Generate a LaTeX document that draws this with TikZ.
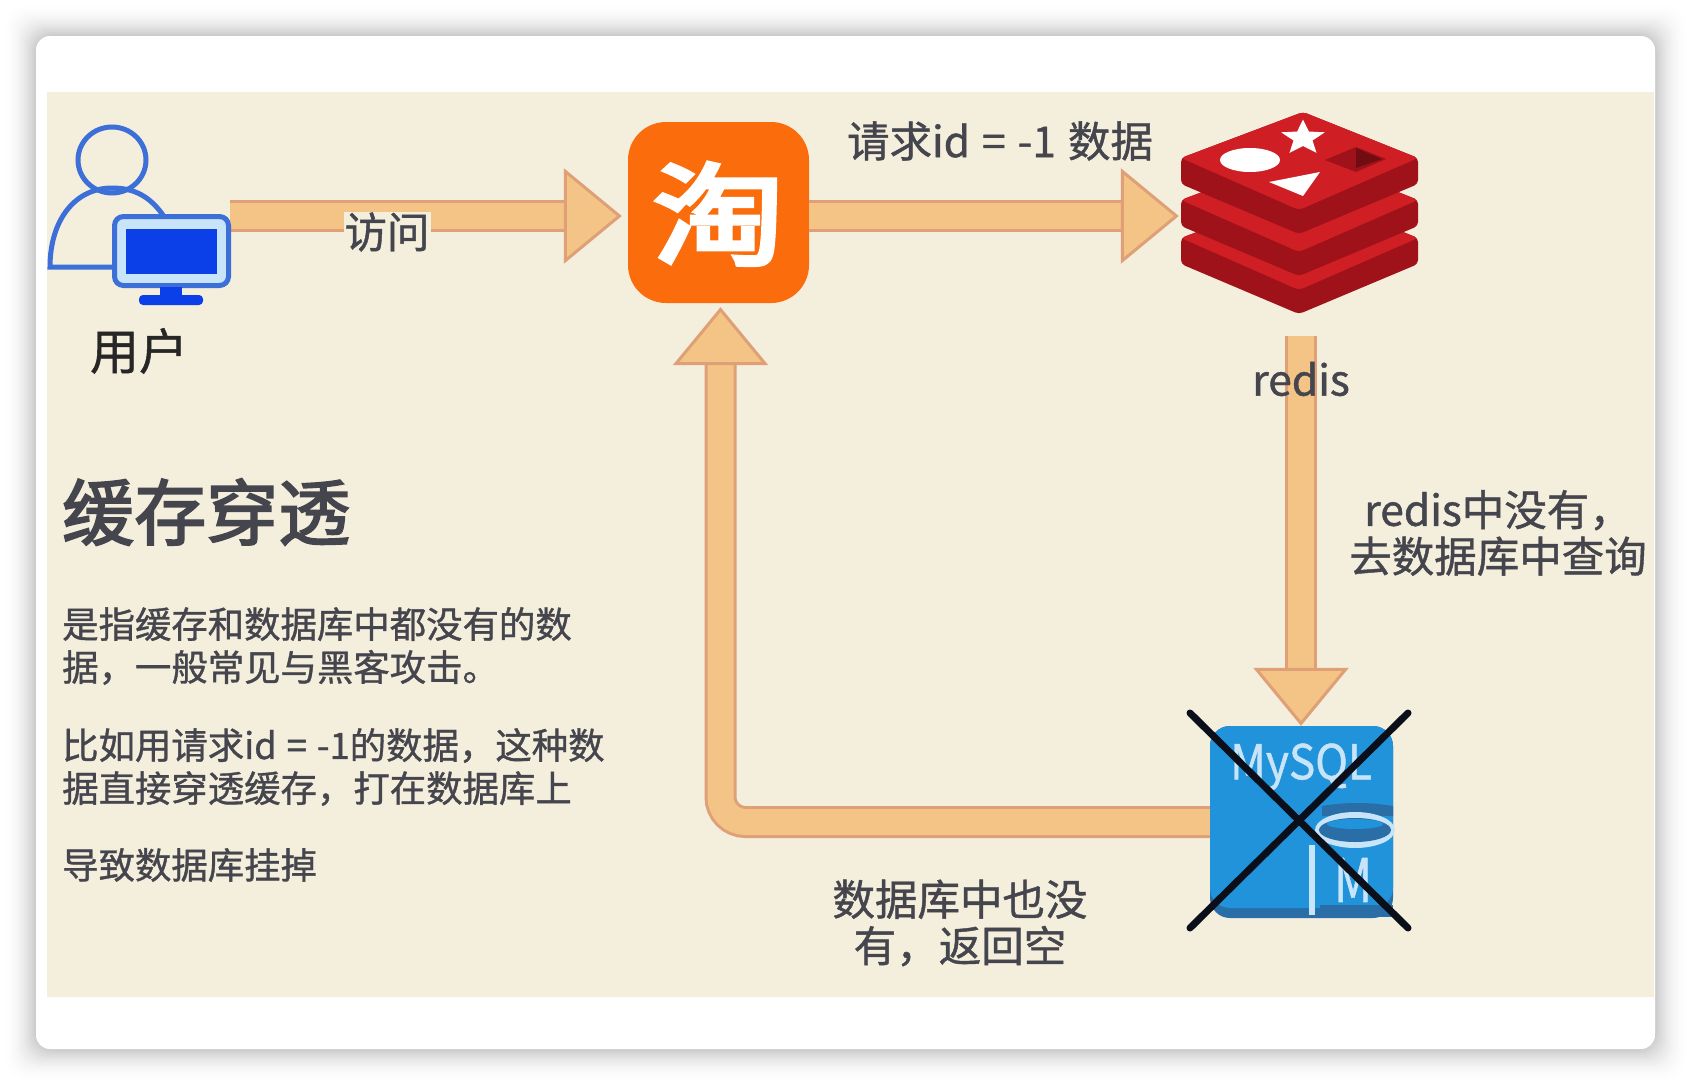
\documentclass[tikz,border=0pt]{standalone}
\usepackage{fontspec}
\setmainfont[FakeBold=1]{Noto Sans CJK SC}
\newfontfamily\logofont[FakeBold=4]{Noto Sans CJK SC}
\newfontfamily\titlefont[FakeBold=2.5]{Noto Sans CJK SC}
\usetikzlibrary{arrows.meta,shapes.geometric}
\definecolor{panelbg}{HTML}{F4EEDD}
\definecolor{flowfill}{HTML}{F3C486}
\definecolor{flowedge}{HTML}{DFA077}
\definecolor{textgrey}{HTML}{45454D}
\definecolor{userblue}{HTML}{3D6FD8}
\definecolor{screenblue}{HTML}{0B3FE8}
\definecolor{logoorange}{HTML}{FB6D0C}
\definecolor{redislight}{HTML}{CF1F24}
\definecolor{redisdark}{HTML}{A01219}
\definecolor{sqlblue}{HTML}{2193DA}
\definecolor{sqldark}{HTML}{2A6EA8}
\definecolor{sqlpale}{HTML}{C8E4F8}
\definecolor{crossdark}{HTML}{0A0F1A}
\tikzset{
    flow/.style={draw=flowedge, line width=3pt, double=flowfill, double distance=26pt,
        -{Triangle[length=58pt,width=95pt,line width=3pt,fill=flowfill,color=flowedge]}},
    label14/.style={text=textgrey, inner sep=0pt, align=center, font=\fontsize{42.5}{46.5}\selectfont},
    para/.style={text=textgrey, inner sep=0pt, align=left, anchor=west, font=\fontsize{36.4}{43}\selectfont},
    crossline/.style={line width=7pt, color=crossdark, line cap=round}
}
\begin{document}
\begin{tikzpicture}[x=1pt,y=-1pt]
    \useasboundingbox (0,0) rectangle (1690,1084);

    % card with soft edge
    \foreach \d [evaluate=\d as \g using ((34-\d)/34)*((34-\d)/34)*22] in {34,32,...,2}
        \fill[black!\g!white, rounded corners=20pt] (36-\d,36-\d) rectangle (1655+\d,1049+\d);
    \fill[white, rounded corners=14pt] (36,36) rectangle (1655,1049);
    \fill[panelbg] (47,92) rectangle (1654,997);

    \coordinate (flowline) at (0,216);
    \coordinate (redisout) at (1301,336);

    \node[shape=rectangle, rounded corners=38pt, fill=logoorange, minimum width=181pt, minimum height=181pt, inner sep=0pt] (logo) at (718.5,212.5) {};
    \node[inner sep=0pt, text=white, yscale=0.84, font=\fontsize{132}{132}\logofont] (logotext) at (718.5,214) {淘};
    \node[minimum width=237pt, minimum height=202pt, inner sep=0pt] (redis) at (1299.5,213) {};

    % mysql
    \node[shape=rectangle, rounded corners=20pt, fill=sqldark, minimum width=183pt, minimum height=192pt, inner sep=0pt] (mysql) at (1301.5,822) {};
    \fill[sqlblue, rounded corners=20pt] (1210,726) rectangle (1393,908);
    \fill[sqldark] (1322,806) .. controls (1345,802) and (1370,802) .. (1393,806) -- (1393,816) -- (1322,816) -- cycle;
    \fill[sqlpale] (1355,830) ellipse (40pt and 18pt);
    \fill[sqldark] (1355,830) ellipse (36pt and 12pt);
    \fill[sqlblue] (1355,824) ellipse (28pt and 5pt);
    \fill[sqldark] (1320,905) rectangle (1393,917);
    \draw[sqlpale, line width=6pt] (1312,845) -- (1312,915);
    \node[text=sqlpale, inner sep=0pt, xscale=0.92, font=\fontsize{48}{48}\selectfont] (mysqltext) at (1301,767) {MySQL};
    \node[text=sqlpale, inner sep=0pt, xscale=0.78, font=\fontsize{60}{60}\selectfont] (mysqlm) at (1353,880) {M};

    % arrows
    \draw[flow, shorten >=6pt] (230,216) -- (logo.west |- flowline);
    \draw[flow, shorten >=2pt] (logo.east |- flowline) -- (redis.west |- flowline);
    \draw[flow] (redisout) -- (redisout |- mysql.north);
    \draw[flow, rounded corners=25pt, shorten >=4pt] (mysql.west) -| ([xshift=2pt]logo.south);

    % user
    \node[shape=ellipse, draw=userblue, line width=5pt, minimum width=68pt, minimum height=66pt, inner sep=0pt] (head) at (112,160) {};
    \draw[userblue, line width=5pt] (163,215) .. controls (150,197) and (135,188) .. (112,188)
        .. controls (75,188) and (50,220) .. (50,267) -- (114,267);
    \node[shape=rectangle, rounded corners=9pt, draw=userblue, fill=sqlpale, line width=5pt, minimum width=114pt, minimum height=69pt, inner sep=0pt] (monitor) at (171.5,251) {};
    \node[shape=rectangle, fill=screenblue, minimum width=91pt, minimum height=45pt, inner sep=0pt] (screen) at (monitor.center) {};
    \fill[screenblue] (160,287) rectangle (182,296);
    \fill[screenblue, rounded corners=4pt] (139,295) rectangle (203,305);
    \node[inner sep=0pt, text=black!85, font=\fontsize{49}{49}\selectfont] (userlabel) at (139,351) {用户};

    % redis slabs, bottom one first
    \foreach \dy in {80,42,0} {
        \fill[redisdark, rounded corners=4pt] (1181,158+\dy) -- (1181,184+\dy) -- (1299,234+\dy) -- (1418,184+\dy) -- (1418,158+\dy) -- (1303,112+\dy) -- cycle;
        \fill[redislight, rounded corners=4pt] (1181,158+\dy) -- (1303,112+\dy) -- (1418,158+\dy) -- (1299,210+\dy) -- cycle;
    }
    \node[shape=ellipse, fill=white, minimum width=60pt, minimum height=24pt, inner sep=0pt] (redisoval) at (1250,160) {};
    \node[shape=star, star points=5, star point ratio=2.3, fill=white, minimum size=46pt, inner sep=0pt, yscale=0.8] (redisstar) at (1303,138) {};
    \fill[white] (1269,182) -- (1320,172) -- (1303,196) -- cycle;
    \fill[redisdark] (1325,160) -- (1356,147) -- (1386,159) -- (1356,172) -- cycle;
    \fill[black!30!redisdark] (1356,148) -- (1382,159) -- (1356,168) -- cycle;

    % cross over mysql
    \coordinate (xa) at (1190,713);
    \coordinate (xb) at (1408,928);
    \coordinate (xc) at (1408,713);
    \coordinate (xd) at (1190,928);
    \draw[crossline] (xa) -- (xb);
    \draw[crossline] (xc) -- (xd);

    % labels
    \node[label14, fill=panelbg, inner xsep=1pt, inner ysep=0pt] (visit) at (387,232) {访问};
    \node[label14] (ask) at (1000,141) {请求id\hspace{12pt}=\hspace{12pt}-1\hspace{12pt}数据};
    \node[label14] (redislabel) at (1301,379) {redis};
    \node[label14, text width=320pt] (miss) at (1498,533) {redis中没有，\\去数据库中查询};
    \node[label14, text width=300pt] (empty) at (960,923) {数据库中也没\\有，返回空};

    \node[text=textgrey, inner sep=0pt, anchor=west, font=\fontsize{72}{72}\titlefont] (title) at (62,512) {缓存穿透};
    \node[para] (desca) at (62,646) {是指缓存和数据库中都没有的数\\据，一般常见与黑客攻击。};
    \node[para] (descb) at (62,767) {比如用请求id\hspace{10pt}=\hspace{10pt}-1的数据，这种数\\据直接穿透缓存，打在数据库上};
    \node[para] (descc) at (62,865) {导致数据库挂掉};
\end{tikzpicture}
\end{document}
